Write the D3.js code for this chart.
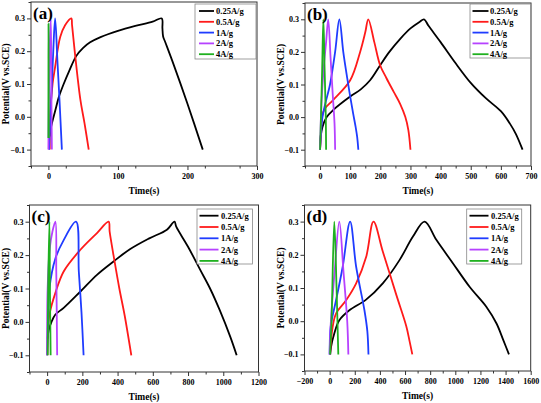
<!DOCTYPE html>
<html><head><meta charset="utf-8">
<script src="https://cdn.jsdelivr.net/npm/d3@7"></script>
<style>
body{margin:0;background:#fff;}
text{font-family:"Liberation Serif","Times New Roman",serif;font-weight:bold;fill:#000;}
</style></head>
<body><svg id="c" width="541" height="403"></svg>
<script>
// ---------- DATA ----------
const seriesLabels = ["0.25A/g","0.5A/g","1A/g","2A/g","4A/g"];
const seriesColors = ["#000000","#ff1a1a","#1f3cff","#b642ff","#1fb01f"];
const panelNames = ["(a)","(b)","(c)","(d)"];
const yTicks = [-0.1,0.0,0.1,0.2,0.3];
const xTicksA = [0,100,200,300];
const xTicksB = [0,100,200,300,400,500,600,700];
const xTicksC = [0,200,400,600,800,1000,1200];
const xTicksD = [-200,0,200,400,600,800,1000,1200,1400,1600];

// panel (a): [time (s), potential (V)]
const a025 = [[2,-0.06],[4,-0.03],[10,0.02],[15,0.06],[22,0.1],[30,0.14],[40,0.185],[50,0.21],[60,0.227],[75,0.243],[100,0.262],[125,0.277],[150,0.29],[163,0.3],[164,0.27],[165,0.245],[168,0.228],[180,0.16],[200,0.04],[222,-0.1]];
const a05  = [[2,-0.1],[2.5,0.0],[6,0.1],[9.7,0.152],[17,0.243],[24,0.279],[33,0.3],[34,0.28],[37.7,0.203],[46,0.052],[52,-0.02],[58,-0.1]];
const a1   = [[1,-0.1],[3,0.0],[5,0.1],[7,0.2],[9.7,0.3],[13,0.17],[16,0.05],[19.4,-0.1]];
const a2   = [[0,-0.1],[1,0.1],[2,0.22],[3.5,0.296],[4.2,0.1],[5,-0.1]];
const a4   = [[0,-0.065],[0.1,0.1],[0.2,0.284],[0.4,0.1],[0.6,-0.065]];

// panel (b)
const b025 = [[0,-0.1],[2,-0.06],[8,-0.03],[22,0.0],[44,0.022],[100,0.063],[135,0.085],[166,0.113],[200,0.16],[230,0.2],[266,0.24],[300,0.272],[330,0.292],[345,0.3],[360,0.28],[400,0.23],[450,0.165],[500,0.105],[550,0.058],[600,0.018],[630,-0.02],[650,-0.052],[672,-0.1]];
const b05  = [[0,-0.1],[3,-0.05],[6,0.0],[15,0.025],[44,0.053],[100,0.113],[133,0.2],[150,0.26],[160,0.3],[180,0.23],[199,0.16],[220,0.12],[244,0.078],[266,0.04],[283,0.0],[293,-0.04],[300,-0.1]];
const b1   = [[0,-0.1],[3,-0.05],[8,0.0],[17,0.04],[33,0.1],[50,0.2],[64,0.3],[77,0.2],[90,0.12],[100,0.063],[110,0.01],[118,-0.03],[123,-0.06],[127,-0.1]];
const b2   = [[0,-0.1],[5,0.05],[12,0.15],[20,0.23],[27,0.3],[35,0.18],[42,0.07],[48,-0.02],[50,-0.1]];
const b4   = [[0,-0.1],[3,0.0],[7,0.15],[11,0.3],[15,0.15],[19,0.0],[20,-0.1]];

// panel (c)
const c025 = [[3,-0.05],[9,-0.025],[25,0.0],[47,0.022],[94,0.042],[189,0.091],[283,0.141],[377,0.181],[472,0.218],[580,0.25],[680,0.276],[723,0.3],[733,0.285],[800,0.225],[870,0.155],[925,0.1],[980,0.035],[1040,-0.045],[1076,-0.1]];
const c05  = [[2,-0.1],[8,0.0],[15,0.027],[47,0.087],[94,0.151],[189,0.216],[283,0.266],[349,0.3],[355,0.27],[380,0.19],[410,0.1],[440,0.02],[478,-0.1]];
const c1   = [[0,-0.1],[5,0.0],[13,0.1],[47,0.19],[94,0.245],[164,0.3],[180,0.15],[195,0.03],[207,-0.1]];
const c2   = [[0,-0.1],[3,0.1],[15,0.22],[30,0.27],[47,0.3],[52,0.15],[57,-0.1]];
const c4   = [[3,-0.1],[6,0.1],[13,0.3],[16,0.1],[20,-0.1]];

// panel (d)
const d025 = [[5,-0.1],[11,-0.078],[37,-0.037],[77,0.003],[157,0.033],[290,0.065],[423,0.114],[556,0.184],[663,0.255],[756,0.3],[849,0.245],[982,0.174],[1115,0.103],[1248,0.043],[1328,-0.007],[1382,-0.057],[1427,-0.1]];
const d05  = [[3,-0.1],[24,-0.017],[51,0.023],[131,0.063],[211,0.114],[291,0.194],[349,0.3],[423,0.21],[530,0.08],[610,-0.015],[636,-0.06],[658,-0.1]];
const d1   = [[0,-0.1],[5,-0.03],[15,0.0],[51,0.063],[104,0.164],[163,0.3],[211,0.164],[277,0.033],[300,-0.03],[309,-0.1]];
const d2   = [[0,-0.1],[10,0.0],[40,0.15],[77,0.3],[110,0.15],[140,0.0],[149,-0.1]];
const d4   = [[3,-0.1],[15,0.0],[37,0.3],[55,0.1],[69,-0.1]];

// ---------- LAYOUT ----------
const panels = [
  {name:panelNames[0], series:[a025,a05,a1,a2,a4], xd:[-25,300], xt:xTicksA, minorStep:50,
   box:{l:31,r:257,t:2,b:166}, ylab:5, leg:{x:195,y:4,w:61,h:55,l0:199,l1:214,tx:216,r0:11,dr:10.8}},
  {name:panelNames[1], series:[b025,b05,b1,b2,b4], xd:[-50,700], xt:xTicksB, minorStep:50,
   box:{l:305,r:531,t:3,b:166}, ylab:280, leg:{x:470,y:4,w:60.5,h:54,l0:472.5,l1:488.5,tx:490,r0:11,dr:10.8}},
  {name:panelNames[2], series:[c025,c05,c1,c2,c4], xd:[-100,1200], xt:xTicksC, minorStep:100,
   box:{l:29.5,r:258.5,t:205,b:372}, ylab:5, leg:{x:197,y:209,w:55.5,h:55,l0:199.5,l1:218.5,tx:221,r0:215.7,dr:11.3}},
  {name:panelNames[3], series:[d025,d05,d1,d2,d4], xd:[-200,1600], xt:xTicksD, minorStep:100,
   box:{l:304.5,r:530.7,t:205,b:371}, ylab:280, leg:{x:466.7,y:209,w:55,h:55,l0:469.5,l1:488.5,tx:491,r0:215.7,dr:11.3}}
];

const svg = d3.select("#c");

panels.forEach(p=>{
  const B = p.box;
  const x = d3.scaleLinear().domain(p.xd).range([B.l,B.r]);
  const y = d3.scaleLinear().domain([-0.15,0.35]).range([B.b,B.t]);
  const g = svg.append("g");

  // frame
  g.append("rect").attr("x",B.l).attr("y",B.t).attr("width",B.r-B.l).attr("height",B.b-B.t)
    .attr("fill","none").attr("stroke","#333").attr("stroke-width",1);

  // minor ticks
  const xm = d3.range(p.xd[0], p.xd[1]+1e-9, p.minorStep).filter(v=>!p.xt.includes(v));
  g.append("g").attr("transform",`translate(0,${B.b})`)
    .call(d3.axisBottom(x).tickValues(xm).tickSize(2.5).tickFormat(""))
    .call(s=>{s.select(".domain").remove(); s.selectAll("line").attr("stroke","#333");});
  const ym = [-0.15,-0.05,0.05,0.15,0.25,0.35];
  g.append("g").attr("transform",`translate(${B.l},0)`)
    .call(d3.axisLeft(y).tickValues(ym).tickSize(2.5).tickFormat(""))
    .call(s=>{s.select(".domain").remove(); s.selectAll("line").attr("stroke","#333");});

  // major axes
  g.append("g").attr("transform",`translate(0,${B.b})`)
    .call(d3.axisBottom(x).tickValues(p.xt).tickSize(4).tickPadding(3).tickFormat(d3.format("d")))
    .call(s=>{s.select(".domain").remove(); s.selectAll("line").attr("stroke","#333");
      s.selectAll("text").attr("font-size","8px").attr("font-family","Liberation Serif").attr("font-weight","bold").attr("fill","#000");});
  g.append("g").attr("transform",`translate(${B.l},0)`)
    .call(d3.axisLeft(y).tickValues(yTicks).tickSize(4).tickPadding(2).tickFormat(d3.format(".1f")))
    .call(s=>{s.select(".domain").remove(); s.selectAll("line").attr("stroke","#333");
      s.selectAll("text").attr("font-size","8px").attr("font-family","Liberation Serif").attr("font-weight","bold").attr("fill","#000");});

  // axis titles
  g.append("text").attr("x",(B.l+B.r)/2).attr("y",B.b+28).attr("text-anchor","middle")
    .attr("font-size","9.5px").text("Time(s)");
  g.append("text").attr("transform",`translate(${p.ylab+3.5},${(B.t+B.b)/2}) rotate(-90)`)
    .attr("text-anchor","middle").attr("font-size","9.5px").text("Potential(V vs.SCE)");

  // lines
  const line = d3.line().x(d=>x(d[0])).y(d=>y(d[1])).curve(d3.curveCatmullRom.alpha(0.5));
  p.series.forEach((s,i)=>{
    g.append("path").datum(s).attr("d",line).attr("fill","none")
      .attr("stroke",seriesColors[i]).attr("stroke-width",1.8).attr("stroke-linejoin","round");
  });

  // panel label
  g.append("text").attr("x",B.l+2).attr("y",B.t+17).attr("font-size","17px").text(p.name);

  // legend
  const L = p.leg;
  g.append("rect").attr("x",L.x).attr("y",L.y).attr("width",L.w).attr("height",L.h)
    .attr("fill","#fff").attr("stroke","#888").attr("stroke-width",0.8);
  seriesLabels.forEach((lab,i)=>{
    const yy = L.r0 + i*L.dr;
    g.append("line").attr("x1",L.l0).attr("x2",L.l1).attr("y1",yy).attr("y2",yy)
      .attr("stroke",seriesColors[i]).attr("stroke-width",1.8);
    g.append("text").attr("x",L.tx).attr("y",yy).attr("dy","0.35em").attr("font-size","8.5px").text(lab);
  });
});
</script></body></html>
